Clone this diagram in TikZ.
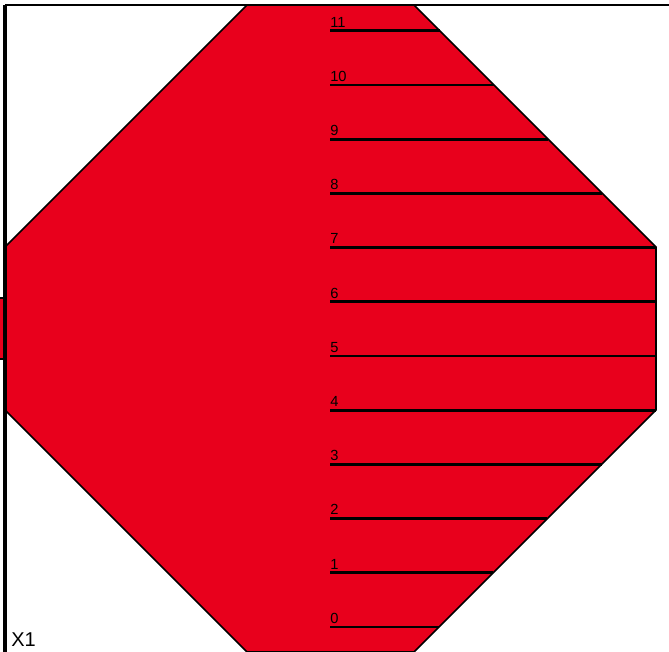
\documentclass[tikz,border=0pt]{standalone}
\usepackage{fontspec}
\setmainfont{Liberation Sans}
\definecolor{octred}{RGB}{232,0,28}
\begin{document}
\begin{tikzpicture}[x=0.75pt,y=-0.75pt,
  outl/.style={draw=black,line width=1.2pt},
  tick/.style={draw=black,line width=2.2pt},
  lbl/.style={anchor=south west,inner sep=0pt,font=\fontsize{11pt}{11pt}\selectfont},
]
\useasboundingbox (0,0) rectangle (669,652);
\begin{scope}
\clip (0,0) rectangle (669,652);
% small rectangle at left
\filldraw[fill=octred,outl] (-2,298) rectangle (5,359);
% octagon
\filldraw[fill=octred,outl] (247,5) -- (414,5) -- (656,247) -- (656,410) -- (414,652) -- (247,652) -- (5,410) -- (5,247) -- cycle;
% scale lines
\foreach \i/\y/\xe in {0/627/439,1/572.8/493.2,2/518.6/547.4,3/464.4/601.6,4/410.2/656,5/356/656,6/301.8/656,7/247.6/656,8/193.4/602.4,9/139.2/548.2,10/85/494,11/30.8/439.8}{
  \coordinate (s\i) at (330,\y);
  \coordinate (e\i) at (\xe,\y);
  \draw[tick] (s\i) -- (e\i);
  \node[lbl] (l\i) at ([yshift=2.5pt]s\i) {\i};
}
% axes
\coordinate (tl) at (5,5);
\coordinate (tr) at (669,5);
\coordinate (bl) at (5,652);
\draw[black,line width=1.6pt] (tl) -- (tr);
\draw[black,line width=2.9pt] (tl) -- (bl);
\end{scope}
\node[anchor=south west,inner sep=0pt,font=\fontsize{15pt}{15pt}\selectfont] (x1) at (11,647) {X1};
\end{tikzpicture}
\end{document}
